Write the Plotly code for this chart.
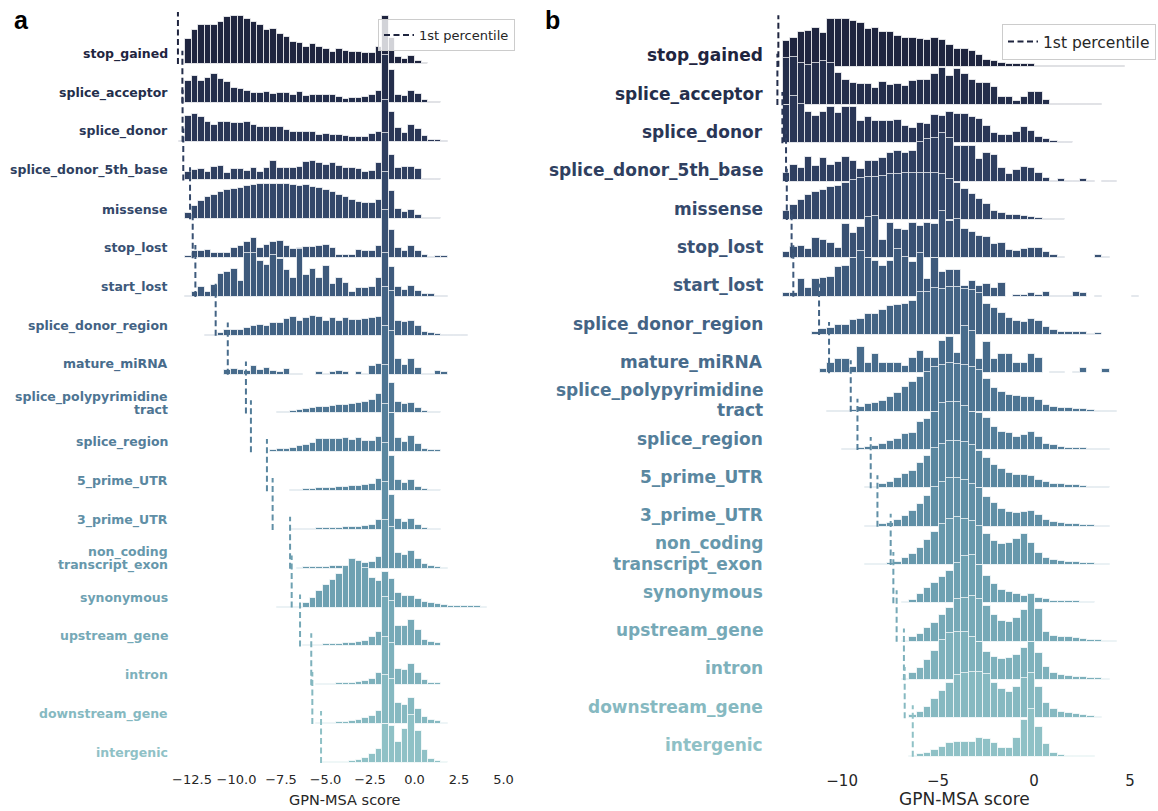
import numpy as np
import plotly.graph_objects as go

# ---------------- categories ----------------
CATEGORIES = ["stop_gained", "splice_acceptor", "splice_donor", "splice_donor_5th_base",
              "missense", "stop_lost", "start_lost", "splice_donor_region", "mature_miRNA",
              "splice_polypyrimidine\ntract", "splice_region", "5_prime_UTR", "3_prime_UTR",
              "non_coding\ntranscript_exon", "synonymous", "upstream_gene", "intron",
              "downstream_gene", "intergenic"]

# ---------------- panel a: histogram bins ----------------
A_BIN_START = -13.258
A_BIN_WIDTH = 0.369
A_N_BINS = 50

A_STOP_GAINED = [0.5, 24.7, 34, 39, 39, 39, 42, 47, 48, 48, 45, 42, 39, 34, 35, 30, 27, 22, 21, 17, 20,
                 17, 15, 12, 15, 13, 12, 12, 11, 11, 17, 48, 26, 7.3, 5, 8.3, 3, 1.3, 0.5, 0.5, 0.5]
A_SPLICE_ACCEPTOR = [0.3, 22, 26.7, 22, 24.7, 29.3, 24, 21, 15, 14.3, 12, 10, 10, 11.3, 9.3, 10, 10, 8, 10.7,
                     7.3, 7.7, 8.3, 8.3, 7.7, 6, 4.3, 5, 5, 6, 8.3, 12, 48, 32.7, 8.3, 6.7, 12, 9.3, 3.3, 1, 1, 0.3]
A_SPLICE_DONOR = [0.3, 25.7, 27.7, 25, 19.3, 16.7, 19.7, 19.7, 18.3, 19, 19.7, 17, 14.3, 14.7, 14.3, 14.3, 11.7,
                  10, 10, 10, 10, 6.7, 7.7, 6.3, 6.3, 5.7, 4.3, 4.7, 5, 7.3, 10, 42, 30, 14, 9, 16.3, 12.3, 5.7,
                  1.7, 1.7, 0.7]
A_SPLICE_DONOR_5TH = [0.3, 8, 10.3, 11, 8.3, 13.7, 14.7, 7.7, 11.7, 11.7, 9.7, 12.3, 8.3, 12.7, 19.7, 12.7, 12.7,
                      12.7, 13.7, 18, 19.3, 17, 15.3, 17.7, 14.7, 12, 12.7, 11.7, 8, 9.3, 17.7, 47.7, 25, 12.3,
                      13, 13, 11.7, 1, 1, 1.3, 0.3, 0.3, 0.3, 0.3, 0.3]
A_MISSENSE = [0, 6.7, 13.3, 18.3, 22, 24.7, 27, 29.3, 30.3, 31.7, 33.7, 34.3, 35.3, 35, 35.3, 35.3, 35.3, 34.7,
              33.3, 34, 32.3, 31, 29.3, 27.3, 24.7, 22.7, 19.3, 17.7, 16.7, 16.7, 19.3, 47.3, 28.3, 10.3, 7.7,
              9.3, 4.7, 1.7, 1.7, 1.7, 0.3, 0.3]
A_STOP_LOST = [0, 2.3, 6.7, 7.3, 8, 4.7, 4.7, 4.7, 10, 11.7, 15.7, 19.7, 10, 13.3, 16.3, 17, 12, 9.3, 10, 10.7,
               11.3, 12, 13.3, 10, 2.7, 2.7, 2.7, 8.3, 7.3, 7.3, 11.7, 48.3, 28.3, 10, 7.3, 11.7, 6.7, 2.7, 0.7,
               2.3, 2.3]
A_START_LOST = [0, 1.3, 4.7, 9.7, 4.7, 12.3, 23, 25.3, 28.3, 15.7, 44, 44, 36, 32.3, 42, 38.3, 26.7, 18.7, 48.3,
                21.7, 28.3, 18.7, 31.3, 12.7, 18.7, 14, 4.7, 8.7, 8.7, 9.7, 18.7, 44, 30, 9.7, 6.7, 11.3, 6.3,
                3.3, 3.3, 1.3, 0.7]
A_SPLICE_DONOR_REGION = [0, 0, 0.3, 0.3, 0.7, 1, 3.3, 6, 6, 6, 7.7, 10, 11, 10.3, 12.7, 13.3, 16.7, 19.3, 15.3,
                         17.7, 20.3, 19.3, 15, 18.3, 15.3, 18.3, 16, 16, 16.7, 17.7, 18.7, 48.7, 45, 15.3, 14,
                         15.3, 10.3, 4.3, 3.3, 2.3, 1, 0.7, 0.7, 0.7]
A_MATURE_MIRNA = [0, 0, 0, 0, 0, 0, 0, 4.3, 5.7, 4.3, 3.3, 9, 5, 6.7, 4, 2.7, 5.7, 1, 1, 0, 0, 2.3, 0.7, 2.7,
                  3.3, 2.3, 0, 2.7, 0.7, 9, 11, 49, 43.3, 15.7, 9.3, 15.7, 6.7, 1, 1, 3.3, 2.3]
A_SPLICE_POLY = [0, 0, 0, 0, 0, 0, 0, 0, 0, 0.3, 0.3, 0.3, 0.7, 0.7, 0.7, 1, 1.7, 2.7, 3.3, 4, 5, 6.7, 6.7, 7,
                 8, 8.7, 9.7, 10, 11, 13.3, 19, 48.3, 30.7, 11.7, 9, 10, 5, 2.3, 1, 1, 0.3, 0.3]
A_SPLICE_REGION = [0, 0, 0, 0, 0, 0, 0, 0, 0, 0, 0, 0.3, 0.3, 0.3, 2.3, 3, 3.7, 4.7, 6.3, 7.3, 9.7, 13, 13, 13,
                   13, 14, 12.3, 14.7, 11.7, 11.7, 15, 48.3, 39, 14, 10.7, 16.7, 8.3, 3, 2, 2, 0.5, 0.5]
A_5_PRIME_UTR = [0, 0, 0, 0, 0, 0, 0, 0, 0, 0, 0, 0, 0, 0, 0, 0.3, 0.3, 1, 1, 1.7, 2, 2.7, 3.3, 3.3, 3.7, 4.3,
                 4.7, 5, 5.7, 7.3, 11.7, 47.7, 35, 10.7, 8.3, 10.7, 4.3, 1.7, 1.3, 1.3, 0.3]
A_3_PRIME_UTR = [0, 0, 0, 0, 0, 0, 0, 0, 0, 0, 0, 0, 0, 0, 0, 0, 0.3, 0.7, 0.7, 1, 1.3, 1.7, 2, 2, 2.3, 2.7, 3,
                 3.3, 4, 5, 9.7, 48.3, 35, 10.7, 8.3, 11, 5, 1.7, 0.7, 0.7]
A_NON_CODING = [0, 0, 0, 0, 0, 0, 0, 0, 0, 0, 0, 0, 0, 0, 0, 0, 0, 0, 0.3, 1.3, 1.3, 1.7, 2, 2.3, 2.7, 2.7, 9.7,
                7.7, 5.3, 6.7, 11.3, 48.3, 42, 15.3, 13.3, 17.7, 10, 4.3, 2.3, 2, 0.3]
A_SYNONYMOUS = [0, 0, 0, 0, 0, 0, 0, 0, 0, 0, 0, 0, 0, 0, 0, 0.3, 0.3, 0.3, 1, 4.7, 9.7, 16.7, 22.3, 27.7, 33.3,
                41.7, 48.3, 46.7, 40, 30, 26.7, 35.7, 28.3, 15, 11.7, 11.7, 8.3, 5.7, 4.3, 3.3, 2.3, 2, 1.7,
                1.7, 1.3, 1.3, 1]
A_UPSTREAM_GENE = [0, 0, 0, 0, 0, 0, 0, 0, 0, 0, 0, 0, 0, 0, 0, 0, 0, 0, 0, 1.3, 1.3, 1.7, 2, 2, 2.7, 3, 3.7, 4,
                   5.7, 9, 14, 49, 45.7, 20, 20, 26.7, 16.7, 6.7, 4, 3.3, 0.7]
A_INTRON = [0, 0, 0, 0, 0, 0, 0, 0, 0, 0, 0, 0, 0, 0, 0, 0, 0, 0, 0, 0, 0.7, 1, 1.3, 1.7, 2, 2.3, 2.7, 3.3, 4.3,
            6.7, 12, 48.7, 42.7, 16.7, 15.3, 21, 12.7, 5, 2.7, 2.3, 0.3]
A_DOWNSTREAM_GENE = [0, 0, 0, 0, 0, 0, 0, 0, 0, 0, 0, 0, 0, 0, 0, 0, 0, 0, 0, 0, 0, 0.7, 1, 1.3, 1.7, 2, 2.7, 4,
                     5.7, 7.7, 13.3, 49, 45, 20.7, 19.3, 25.7, 15, 6.7, 3.7, 3, 1]
A_INTERGENIC = [0, 0, 0, 0, 0, 0, 0, 0, 0, 0, 0, 0, 0, 0, 0, 0, 0, 0, 0, 0, 0, 0, 0.7, 0.7, 1, 1.3, 2, 2.7, 4.7,
                9, 14, 39.3, 36.7, 21, 34, 48.3, 31.7, 13.3, 4, 2, 0.7, 0.3]

A_P1 = [-13.29, -13.04, -13.03, -12.99, -12.61, -12.46, -12.31, -11.17, -10.49, -9.47, -9.19, -8.29, -7.97,
        -6.99, -6.90, -6.43, -5.80, -5.74, -5.25]

# ---------------- panel b: histogram bins ----------------
B_BIN_START = -13.09
B_BIN_WIDTH = 0.387
B_N_BINS = 48

B_STOP_GAINED = [26, 28.3, 35, 36, 39, 33.3, 47.3, 47.7, 47.7, 46, 44, 37.3, 39, 34.3, 34.3, 31, 29, 28.3, 27.3,
                 26.7, 29, 26.7, 21.7, 17.7, 17.7, 16, 11.7, 6.7, 5.7, 3.3, 2.3, 2.3, 2.7, 2.3, 0.7, 0.3, 0.3,
                 0.3, 0.3, 0.3, 0.3, 0.3, 0.3, 0.3, 0.3, 0.3]
B_SPLICE_ACCEPTOR = [46.7, 47.7, 41.7, 40, 41.7, 44, 42.3, 32.3, 25, 22.3, 20.7, 20.7, 16.7, 23.3, 20, 21, 19, 24,
                     25, 25, 31, 36.7, 29, 35.7, 31, 25, 22.3, 21.7, 17.7, 7.7, 8.3, 4.3, 8.3, 13.3, 13.3, 5, 1.3,
                     1.3, 0.7, 1.3, 1.3, 1.3, 0.7]
B_SPLICE_DONOR = [38.3, 47.7, 39.3, 31.7, 27.3, 31.7, 36, 30, 36, 36, 22.7, 26.7, 22.7, 22.7, 22.7, 23.3, 17.7,
                  15.7, 20.7, 19.3, 28.7, 27.3, 31.7, 29.7, 29.7, 26, 24.7, 17.3, 10.7, 8.3, 8.3, 11.7, 16, 12.7,
                  6.7, 4, 2.7, 1.7, 1.7, 0.7, 0.7, 0.3, 0.3]
B_SPLICE_DONOR_5TH = [8.3, 16.7, 13.3, 25, 15.7, 23.3, 16.7, 19.3, 25, 20.7, 12.3, 21, 21, 23.3, 28.3, 30.7, 29,
                      30.7, 40, 42.3, 43.3, 48.3, 43.3, 36, 36, 36, 22.3, 29, 26.7, 13.3, 7.3, 11.7, 15, 13.3,
                      8.3, 4, 1, 2.3, 1, 0.3, 2.3, 0.7, 0, 0.7, 0.7]
B_MISSENSE = [9.3, 15.3, 20.3, 25, 28.3, 30.3, 33.3, 34.3, 36.7, 40, 41.7, 42.7, 43.3, 44, 45.7, 46, 46.7, 47.3,
              47.3, 47.3, 46.7, 45.7, 40.7, 36.7, 31, 26, 21, 16, 8.7, 7, 5.3, 4.7, 4.3, 2.7, 1.7, 1.3, 1, 0.7,
              0.3, 0.3, 0.3, 0.3, 0.3, 0.3, 0.3, 0.3]
B_STOP_LOST = [6, 11.7, 12.7, 9, 20, 18.3, 15.7, 10.7, 34, 25.7, 31.7, 41, 42.3, 18.3, 35, 29.7, 28.3, 35, 32.3,
               35.7, 34, 47.7, 37.7, 39.3, 29.3, 26.7, 22.7, 21, 14.3, 15.7, 8.3, 7.3, 9, 10.7, 10.7, 6, 3.3, 1.7,
               0, 0.3, 0.3, 0.3, 3.3, 1.7, 0, 0, 0, 0.3]
B_START_LOST = [3.3, 3.3, 17.3, 8.3, 17.3, 19, 20, 29.3, 31, 39, 46, 39, 36, 31, 35.7, 48, 39.3, 34.3, 43.3, 17.3,
                38.3, 25, 26.7, 26.7, 11, 15.7, 11, 12.7, 8.3, 14, 0, 2, 2, 3.3, 1.7, 5, 1, 1, 1, 5, 3.3, 0, 0.7,
                0, 0, 0, 0, 0.7]
B_SPLICE_DONOR_REGION = [0, 0, 0.5, 0.5, 3.3, 6, 6.7, 10, 10, 15, 15.7, 20.7, 20.7, 25, 29.3, 30, 31, 34.3, 43.3,
                         43.3, 46.7, 45.7, 47.7, 48.3, 45.7, 45, 42.3, 31, 26.7, 22.3, 17.3, 14.3, 13.3, 15.7,
                         14.3, 8.3, 5, 2.7, 2.7, 2.7, 2.7, 1, 1.7, 0.5, 0.5]
B_MATURE_MIRNA = [0, 0, 0, 0, 0, 4.3, 10.7, 14.3, 14.3, 6, 26, 10, 19.3, 10, 10, 10.7, 7.7, 15.7, 22.3, 15.7,
                  15.7, 32.7, 36, 20, 47.7, 42.7, 14.3, 31, 14.3, 19.3, 19.3, 10, 10.7, 19.3, 15.7, 0, 1.7, 1.7,
                  0, 1.7, 5.7, 0.7, 0, 4.3, 0, 0.7]
B_SPLICE_POLY = [0, 0, 0, 0, 0, 0, 0.3, 0.7, 1, 1.7, 4.3, 7.3, 8.3, 11, 15, 18.3, 24.3, 29.3, 35, 40, 45, 46.7,
                 48.3, 47.3, 46.7, 45, 41.7, 32.3, 23.3, 20, 16.7, 15.7, 15, 14.3, 11.7, 6.7, 4.3, 3.3, 3.3, 2.7,
                 2.3, 1.7, 0.7, 0.7, 0.7]
B_SPLICE_REGION = [0, 0, 0, 0, 0, 0, 0, 0, 0.7, 1, 1.7, 3.3, 4, 6, 9, 11, 16, 16.7, 27.7, 31, 38.3, 46.7, 47.7,
                   47.7, 44, 38.3, 36.7, 31.7, 22.7, 17.7, 16.7, 13.3, 15, 17.7, 12.7, 5.7, 4.7, 3, 2.3, 2.3, 2.3,
                   1, 1, 0.7]
B_5_PRIME_UTR = [0, 0, 0, 0, 0, 0, 0, 0, 0, 0, 0.7, 1.7, 1.7, 4, 6.7, 10, 14, 17.7, 25, 32.3, 40, 44.3, 47.7,
                 47.7, 46, 43.3, 37.7, 30, 23.3, 19, 15.7, 13, 13, 12.3, 8.3, 6, 4.3, 4, 3.3, 3, 2.3, 1.7, 1.7, 1,
                 0.7]
B_3_PRIME_UTR = [0, 0, 0, 0, 0, 0, 0, 0, 0, 0, 0, 0.7, 1, 2.3, 3.3, 6.7, 11, 16, 22.7, 30.7, 39.3, 45, 48.3, 48.3,
                 46.7, 42.3, 38.3, 30, 23.3, 18, 15, 14, 15, 16, 11.7, 6.7, 4.3, 3.3, 3, 2.3, 1.7, 1.7, 1, 1]
B_NON_CODING = [0, 0, 0, 0, 0, 0, 0, 0, 0, 0, 0, 0.5, 0.7, 1, 2.3, 3.3, 6.7, 11, 17.3, 25, 32.7, 41, 46, 48.3,
                45.7, 44, 39, 30.7, 24, 20.7, 22.3, 26, 30.7, 21.7, 11.7, 6.7, 5, 4, 3.3, 2.7, 2, 1.7, 1, 0.7]
B_SYNONYMOUS = [0, 0, 0, 0, 0, 0, 0, 0, 0, 0, 0, 0, 0, 0, 0.3, 0.7, 1.3, 3.3, 9, 15, 20.7, 26.7, 32.3, 40, 47,
                48.3, 38.3, 27.3, 19.3, 13.3, 11, 9, 7.3, 9, 5, 4, 2.7, 2.7, 2, 2, 1.7, 1, 0.7, 0.7]
B_UPSTREAM_GENE = [0, 0, 0, 0, 0, 0, 0, 0, 0, 0, 0, 0, 0, 0, 0, 0, 0.7, 5, 7.7, 13.3, 19, 26.7, 34, 42.3, 44,
                   45.7, 42.3, 35.7, 26.7, 21, 20, 24, 32, 47.3, 32.3, 10, 5.7, 5, 4.3, 3.3, 2.3, 1.7, 1.7, 1, 0.7]
B_INTRON = [0, 0, 0, 0, 0, 0, 0, 0, 0, 0, 0, 0, 0, 0, 0, 0, 0.7, 6.7, 11.7, 20, 29.3, 40, 46.7, 47.7, 48.3, 43.3,
            38.3, 28.3, 23.3, 21, 22, 25, 32.3, 38.3, 26.7, 13.3, 6.7, 5, 4, 3.3, 2.7, 1.7, 1.7, 1]
B_DOWNSTREAM_GENE = [0, 0, 0, 0, 0, 0, 0, 0, 0, 0, 0, 0, 0, 0, 0, 0, 0, 3.3, 6.7, 11.7, 19, 27.3, 35.7, 43.3, 45,
                     46, 46.7, 44, 35, 29.3, 26, 31, 40, 45.7, 31, 15.7, 9.3, 6.7, 5, 4.3, 3.3, 2.3, 1]
B_INTERGENIC = [0, 0, 0, 0, 0, 0, 0, 0, 0, 0, 0, 0, 0, 0, 0, 0, 0, 0.7, 2.7, 4, 6.7, 10, 13.3, 14.3, 14.3, 15,
                18.3, 17.7, 13.3, 9, 9, 18.3, 36.7, 47.3, 30, 12.7, 3.3, 1.3, 1, 0.7, 0.7, 0.3]

B_P1 = [-13.32, -13.37, -13.11, -12.92, -12.88, -12.63, -12.54, -11.20, -10.68, -9.55, -9.20, -8.51, -8.16,
        -7.47, -7.33, -7.16, -6.78, -6.74, -6.32]

A_TICKS = [-12.5, -10.0, -7.5, -5.0, -2.5, 0.0, 2.5, 5.0]
A_TICKTEXT = ["\u221212.5", "\u221210.0", "\u22127.5", "\u22125.0", "\u22122.5", "0.0", "2.5", "5.0"]
B_TICKS = [-10, -5, 0, 5]
B_TICKTEXT = ["\u221210", "\u22125", "0", "5"]

A_ROWS = [A_STOP_GAINED, A_SPLICE_ACCEPTOR, A_SPLICE_DONOR, A_SPLICE_DONOR_5TH, A_MISSENSE, A_STOP_LOST,
          A_START_LOST, A_SPLICE_DONOR_REGION, A_MATURE_MIRNA, A_SPLICE_POLY, A_SPLICE_REGION, A_5_PRIME_UTR,
          A_3_PRIME_UTR, A_NON_CODING, A_SYNONYMOUS, A_UPSTREAM_GENE, A_INTRON, A_DOWNSTREAM_GENE, A_INTERGENIC]
B_ROWS = [B_STOP_GAINED, B_SPLICE_ACCEPTOR, B_SPLICE_DONOR, B_SPLICE_DONOR_5TH, B_MISSENSE, B_STOP_LOST,
          B_START_LOST, B_SPLICE_DONOR_REGION, B_MATURE_MIRNA, B_SPLICE_POLY, B_SPLICE_REGION, B_5_PRIME_UTR,
          B_3_PRIME_UTR, B_NON_CODING, B_SYNONYMOUS, B_UPSTREAM_GENE, B_INTRON, B_DOWNSTREAM_GENE, B_INTERGENIC]


# ---------------- style ----------------
def cubehelix(n, start=0.0, rot=-0.25, gamma=1.0, hue=0.8, light=0.7, dark=0.15):
    out = []
    for x in np.linspace(light, dark, n):
        xg = x ** gamma
        a = hue * xg * (1 - xg) / 2
        phi = 2 * np.pi * (start / 3 + rot * x)
        r = xg + a * (-0.14861 * np.cos(phi) + 1.78277 * np.sin(phi))
        g = xg + a * (-0.29227 * np.cos(phi) - 0.90649 * np.sin(phi))
        b = xg + a * (1.97294 * np.cos(phi))
        rgb = [int(round(255 * min(max(c, 0), 1))) for c in (r, g, b)]
        out.append("rgb(%d,%d,%d)" % tuple(rgb))
    return out[::-1]


COLORS = cubehelix(len(CATEGORIES))
W, H = 1158, 811
FONT = "DejaVu Sans"
TXT = "#262626"

# panel geometry (pixels)
A_PX_LEFT, A_PX_RIGHT = 170, 520
A_ZERO_PX, A_PX_PER_UNIT = 414.5, 17.8
A_BASE0_PX, A_ROW_PX = 64.0, 38.83
B_PX_LEFT, B_PX_RIGHT = 770, 1158
B_ZERO_PX, B_PX_PER_UNIT = 1034.1, 19.2
B_BASE0_PX, B_ROW_PX = 66.7, 38.33
PLOT_BOTTOM_PX = 770
LINE_ROWS = 1.34

fig = go.Figure()


def add_panel(rows, p1, bin_start, bin_width, n_bins, row_px, xa, ya, legend_name):
    centers = bin_start + bin_width * (np.arange(n_bins) + 0.5)
    for i, vals in enumerate(rows):
        h = np.zeros(n_bins)
        h[:len(vals)] = vals
        m = h > 0
        fig.add_trace(go.Bar(
            x=centers[m], y=h[m] / row_px, base=-i, width=bin_width,
            marker=dict(color=COLORS[i], line=dict(color="rgba(255,255,255,0.72)", width=1)),
            xaxis=xa, yaxis=ya, showlegend=False, hoverinfo="skip"))
        fig.add_trace(go.Scatter(
            x=[p1[i], p1[i]], y=[-i, -i + LINE_ROWS], mode="lines",
            line=dict(color=COLORS[i], width=2, dash="6px,3.5px"),
            xaxis=xa, yaxis=ya, name="1st percentile", showlegend=(i == 0),
            legend=legend_name, hoverinfo="skip"))


add_panel(A_ROWS, A_P1, A_BIN_START, A_BIN_WIDTH, A_N_BINS, A_ROW_PX, "x", "y", "legend")
add_panel(B_ROWS, B_P1, B_BIN_START, B_BIN_WIDTH, B_N_BINS, B_ROW_PX, "x2", "y2", "legend2")

ann = []


def labels(base0, row_px, right_px, size, yref, off_px, half_px):
    for i, name in enumerate(CATEGORIES):
        parts = name.split("\n")
        if len(parts) == 1:
            offs = [off_px]
        else:
            offs = [off_px + half_px, off_px - half_px]
        for part, o in zip(parts, offs):
            ann.append(dict(x=right_px / W, xref="paper", xanchor="right",
                            y=-i + o / row_px, yref=yref, yanchor="middle",
                            text="<b>%s</b>" % part, showarrow=False,
                            font=dict(family=FONT, size=size, color=COLORS[i])))


labels(A_BASE0_PX, A_ROW_PX, 169.5, 12.5, "y", 10.3, 6.6)
labels(B_BASE0_PX, B_ROW_PX, 765, 17, "y2", 11.5, 10.3)

ann.append(dict(x=12 / W, y=1 - 20 / H, xref="paper", yref="paper", xanchor="left", yanchor="middle",
                text="<b>a</b>", showarrow=False, font=dict(family="Liberation Sans", size=25, color="black")))
ann.append(dict(x=543 / W, y=1 - 20 / H, xref="paper", yref="paper", xanchor="left", yanchor="middle",
                text="<b>b</b>", showarrow=False, font=dict(family="Liberation Sans", size=25, color="black")))
ann.append(dict(x=345 / W, y=1 - 800 / H, xref="paper", yref="paper", xanchor="center", yanchor="middle",
                text="GPN-MSA score", showarrow=False, font=dict(family=FONT, size=14.5, color=TXT)))
ann.append(dict(x=964 / W, y=1 - 799 / H, xref="paper", yref="paper", xanchor="center", yanchor="middle",
                text="GPN-MSA score", showarrow=False, font=dict(family=FONT, size=17, color=TXT)))


def xr(left, right, zero, ppu):
    return [(left - zero) / ppu, (right - zero) / ppu]


def yr(base0, rowpx):
    return [-(PLOT_BOTTOM_PX - base0) / rowpx, base0 / rowpx]


ydom = [1 - PLOT_BOTTOM_PX / H, 1]
fig.update_layout(
    width=W, height=H, margin=dict(l=0, r=0, t=0, b=0),
    paper_bgcolor="white", plot_bgcolor="white",
    barmode="overlay", bargap=0, hovermode=False,
    font=dict(family=FONT, color=TXT),
    xaxis=dict(domain=[A_PX_LEFT / W, A_PX_RIGHT / W], range=xr(A_PX_LEFT, A_PX_RIGHT, A_ZERO_PX, A_PX_PER_UNIT),
               tickvals=A_TICKS, ticktext=A_TICKTEXT, showgrid=False, zeroline=False, showline=False,
               ticks="", tickfont=dict(family=FONT, size=13, color=TXT), anchor="y"),
    yaxis=dict(domain=ydom, range=yr(A_BASE0_PX, A_ROW_PX), visible=False, anchor="x"),
    xaxis2=dict(domain=[B_PX_LEFT / W, B_PX_RIGHT / W], range=xr(B_PX_LEFT, B_PX_RIGHT, B_ZERO_PX, B_PX_PER_UNIT),
                tickvals=B_TICKS, ticktext=B_TICKTEXT, showgrid=False, zeroline=False, showline=False,
                ticks="", tickfont=dict(family=FONT, size=15, color=TXT), anchor="y2"),
    yaxis2=dict(domain=ydom, range=yr(B_BASE0_PX, B_ROW_PX), visible=False, anchor="x2"),
    legend=dict(x=515 / W, xanchor="right", y=1 - 19 / H, yanchor="top", bgcolor="rgba(255,255,255,0.8)",
                bordercolor="#cccccc", borderwidth=1, font=dict(family=FONT, size=13, color=TXT),
                itemwidth=30, tracegroupgap=0),
    legend2=dict(x=1156 / W, xanchor="right", y=1 - 24 / H, yanchor="top", bgcolor="rgba(255,255,255,0.8)",
                 bordercolor="#cccccc", borderwidth=1, font=dict(family=FONT, size=15.5, color=TXT),
                 itemwidth=30, tracegroupgap=0),
    annotations=ann,
)

fig.write_html("out.html")
